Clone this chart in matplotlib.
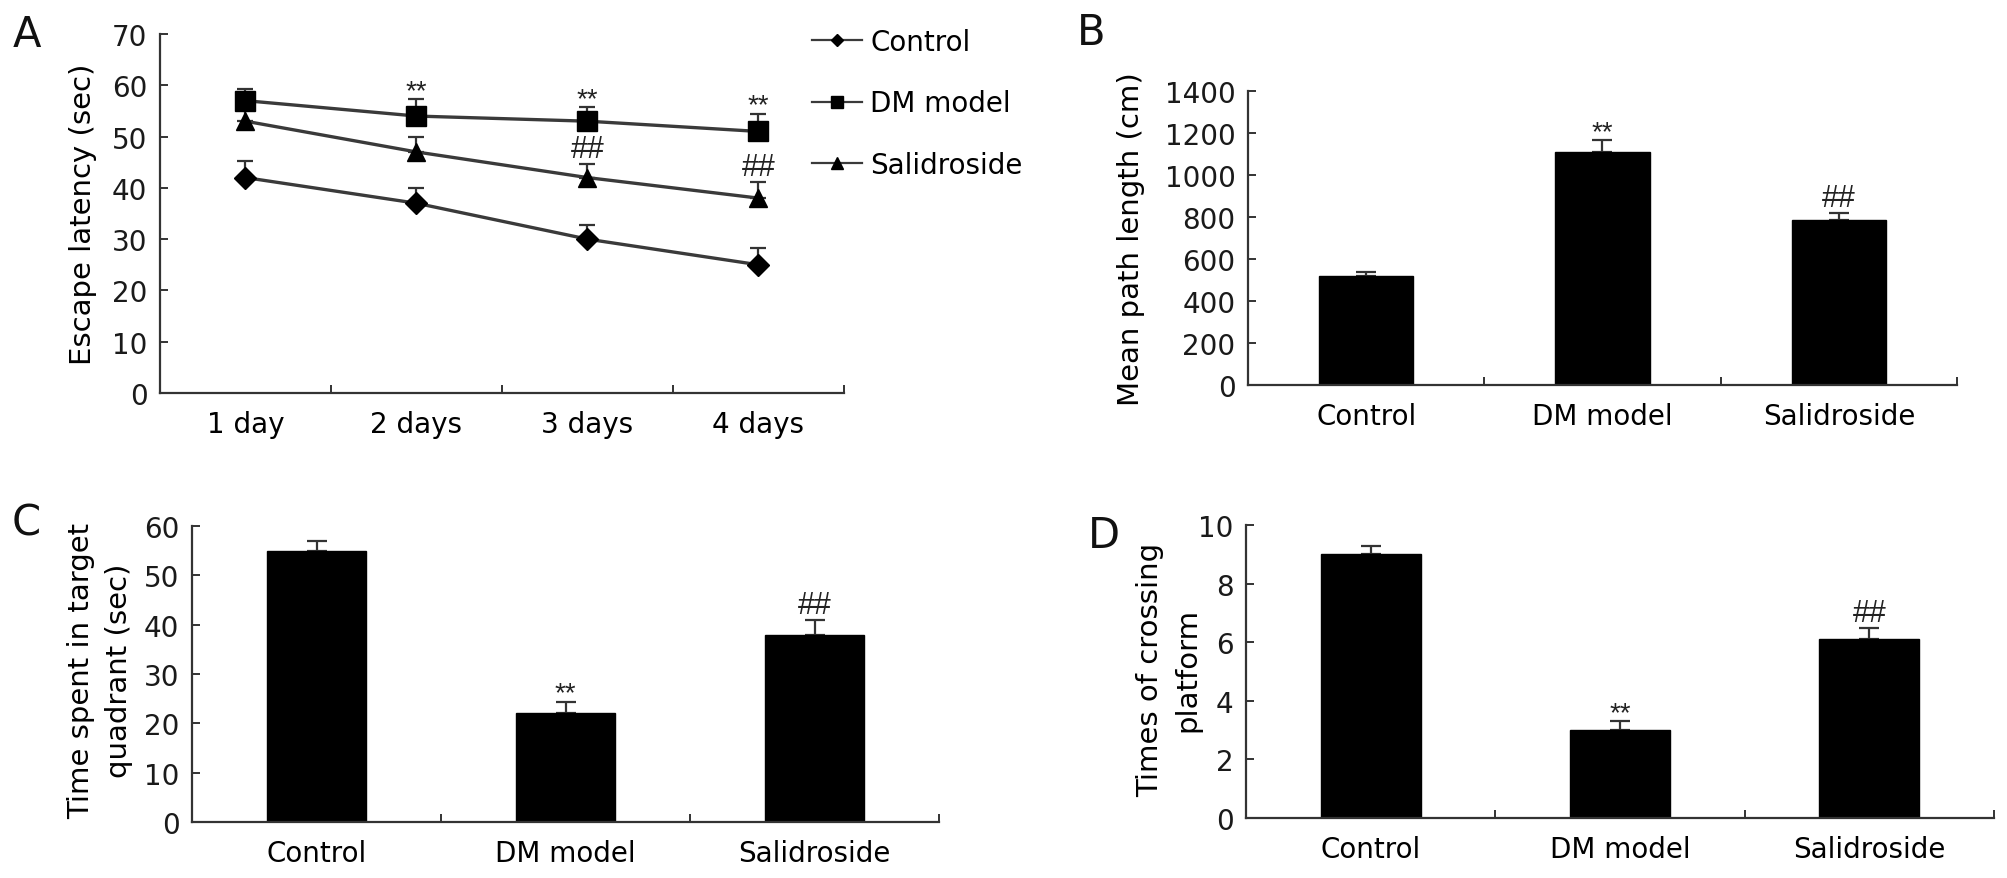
import numpy as np
import matplotlib
matplotlib.use("Agg")
import matplotlib.pyplot as plt
from matplotlib.lines import Line2D

# #############################################################################
# Data
days = ['1 day', '2 days', '3 days', '4 days']
control_latency = [42, 37, 30, 25]
control_latency_err = [3.3, 3.0, 2.8, 3.2]
dm_latency = [57, 54, 53, 51]
dm_latency_err = [2.3, 3.3, 2.7, 3.4]
sal_latency = [53, 47, 42, 38]
sal_latency_err = [2.5, 3.0, 2.6, 3.1]
dm_latency_sig = ['', '**', '**', '**']
sal_latency_sig = ['', '', '##', '##']

groups = ['Control', 'DM model', 'Salidroside']
path_length = [520, 1110, 785]
path_length_err = [20, 55, 35]
quadrant_time = [55, 22, 38]
quadrant_time_err = [2.0, 2.4, 2.9]
crossings = [9.0, 3.0, 6.1]
crossings_err = [0.3, 0.3, 0.4]
bar_sig = ['', '**', '##']

# #############################################################################
# Style
plt.rcParams['font.family'] = ['DejaVu Sans']
plt.rcParams['font.size'] = 20
AX = '#333333'
FS = 20
SIGFONT = 'Liberation Sans'

W, H = 2008, 879
fig = plt.figure(figsize=(W / 100, H / 100), dpi=100)


def axes_px(left, top, right, bottom):
    return fig.add_axes([left / W, 1 - bottom / H, (right - left) / W, (bottom - top) / H])


def style(ax):
    for s in ['top', 'right']:
        ax.spines[s].set_visible(False)
    for s in ['left', 'bottom']:
        ax.spines[s].set_color(AX)
        ax.spines[s].set_linewidth(1.6)
    ax.tick_params(direction='in', length=6, width=1.4, color=AX,
                   labelsize=FS, pad=9, labelcolor='#1a1a1a')
    ax.tick_params(axis='x', which='minor', length=0, pad=12)


def sig_text(ax, x, y, s):
    if not s:
        return
    if s.startswith('*'):
        ax.annotate(s, (x, y), xytext=(0, 1), textcoords='offset points',
                    ha='center', va='baseline', fontsize=20, family=SIGFONT,
                    color='#222222')
    else:
        ax.annotate(s, (x, y), xytext=(0, 5), textcoords='offset points',
                    ha='center', va='baseline', fontsize=22, family=SIGFONT,
                    color='#222222')


# #############################################################################
# A: escape latency
axA = axes_px(160, 35, 844, 394)
style(axA)
x = np.arange(1, len(days) + 1)
series = [
    (control_latency, control_latency_err, 'D', 11, 'Control', None),
    (dm_latency, dm_latency_err, 's', 14, 'DM model', dm_latency_sig),
    (sal_latency, sal_latency_err, '^', 13, 'Salidroside', sal_latency_sig),
]
handles = []
for mean, err, mk, ms, lab, sig in series:
    axA.errorbar(x, mean, yerr=[np.zeros(len(err)), err], fmt='none',
                 ecolor='#333333', elinewidth=1.6, capsize=6, capthick=1.6)
    axA.plot(x, mean, color='#3a3a3a', lw=2.4, marker=mk, ms=ms,
             mfc='black', mec='black', zorder=3)
    handles.append(Line2D([], [], color='#3a3a3a', lw=1.6, marker=mk,
                          ms={'D': 6, 's': 9, '^': 8.5}[mk], mfc='black', mec='black'))
    if sig:
        for xi, m, e, s in zip(x, mean, err, sig):
            sig_text(axA, xi, m + e, s)
axA.set_xlim(0.5, 4.5)
axA.set_ylim(0, 70)
axA.set_yticks(np.arange(0, 71, 10))
axA.set_xticks([1.5, 2.5, 3.5, 4.5])
axA.set_xticklabels([])
axA.set_xticks(x, minor=True)
axA.set_xticklabels(days, minor=True)
axA.set_ylabel('Escape latency (sec)', fontsize=21)
axA.yaxis.set_label_coords(-0.092, 0.5)

fig.legend(handles, ['Control', 'DM model', 'Salidroside'], loc='upper left',
           bbox_to_anchor=(812 / W, 1 - 29 / H), frameon=False, fontsize=FS,
           handlelength=1.8, handletextpad=0.3, labelspacing=1.2, borderpad=0,
           borderaxespad=0)


# #############################################################################
# Bar panels
def bar_panel(rect, values, errs, ylim, step, ylabel, lab_x, lab_y=0.5):
    ax = axes_px(*rect)
    style(ax)
    pos = np.arange(1, len(groups) + 1)
    ax.bar(pos, values, width=0.4, color='black', edgecolor='black', zorder=2)
    ax.errorbar(pos, values, yerr=[np.zeros(len(errs)), errs], fmt='none',
                ecolor='#333333', elinewidth=1.6, capsize=7, capthick=1.6, zorder=1)
    for p, v, e, s in zip(pos, values, errs, bar_sig):
        sig_text(ax, p, v + e, s)
    ax.set_xlim(0.5, 3.5)
    ax.set_ylim(0, ylim)
    ax.set_yticks(np.arange(0, ylim + step / 2, step))
    ax.set_xticks([1.5, 2.5, 3.5])
    ax.set_xticklabels([])
    ax.set_xticks(pos, minor=True)
    ax.set_xticklabels(groups, minor=True)
    ax.set_ylabel(ylabel, fontsize=21, linespacing=1.45)
    ax.yaxis.set_label_coords(lab_x, lab_y)
    return ax


axB = bar_panel((1248, 92, 1957, 386), path_length, path_length_err, 1400, 200,
                'Mean path length (cm)', -0.145, 0.5)
axC = bar_panel((192, 527, 939, 823), quadrant_time, quadrant_time_err, 60, 10,
                'Time spent in target\nquadrant (sec)', -0.079, 0.515)
axD = bar_panel((1246, 526, 1994, 819), crossings, crossings_err, 10, 2,
                'Times of crossing\nplatform', -0.059, 0.51)

# panel letters
for letter, px, py in [('A', 13, 47), ('B', 1077, 45), ('C', 12, 535), ('D', 1088, 548)]:
    fig.text(px / W, 1 - py / H, letter, fontsize=30, ha='left', va='baseline',
             color='#111111')

fig.savefig('out.png', dpi=100)
